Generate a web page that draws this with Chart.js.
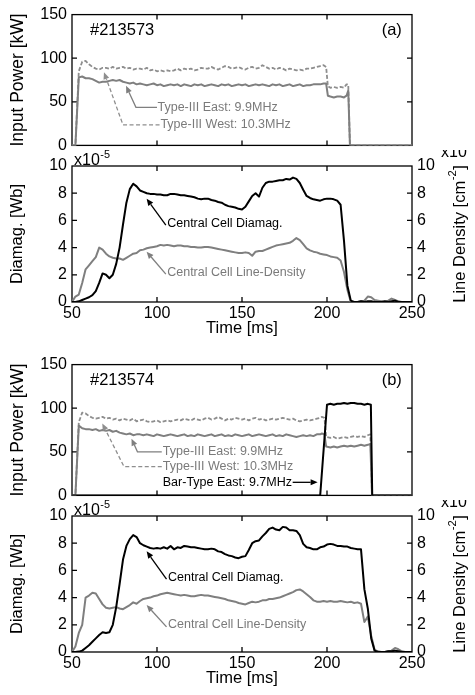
<!DOCTYPE html>
<html>
<head>
<meta charset="utf-8">
<script src="https://cdn.jsdelivr.net/npm/chart.js@4.4.1/dist/chart.umd.min.js"></script>
<style>
  html, body { margin: 0; padding: 0; background: #fff; }
  #wrap { position: relative; width: 475px; height: 695px; overflow: hidden; }
  #wrap canvas { position: absolute; left: 0; }
</style>
</head>
<body>
<div id="wrap">
  <canvas id="powA" width="475" height="160" style="top:0px"></canvas>
  <canvas id="magA" width="475" height="195" style="top:150px"></canvas>
  <canvas id="powB" width="475" height="160" style="top:350px"></canvas>
  <canvas id="magB" width="475" height="195" style="top:500px"></canvas>
</div>
<script>
// ---- data ----
// time grid for diamagnetism / line density [ms]
var tGrid = [
  50, 52, 54, 56, 58, 60, 62, 64, 66, 68,
  70, 72, 74, 76, 78, 80, 82, 84, 86, 88,
  90, 92, 94, 96, 98, 100, 102, 104, 106, 108,
  110, 112, 114, 116, 118, 120, 122, 124, 126, 128,
  130, 132, 134, 136, 138, 140, 142, 144, 146, 148,
  150, 152, 154, 156, 158, 160, 162, 164, 166, 168,
  170, 172, 174, 176, 178, 180, 182, 184, 186, 188,
  190, 192, 194, 196, 198, 200, 202, 204, 206, 208,
  210, 212, 214, 216, 218, 220, 222, 224, 226, 228,
  230, 232, 234, 236, 238, 240, 242, 244, 246, 248,
  250];

// (a) #213573
var tPowA = [
  50, 52, 54, 56, 58, 60, 62, 64, 66, 68,
  70, 72, 74, 76, 78, 80, 82, 84, 86, 88,
  90, 92, 94, 96, 98, 100, 102, 104, 106, 108,
  110, 112, 114, 116, 118, 120, 122, 124, 126, 128,
  130, 132, 134, 136, 138, 140, 142, 144, 146, 148,
  150, 152, 154, 156, 158, 160, 162, 164, 166, 168,
  170, 172, 174, 176, 178, 180, 182, 184, 186, 188,
  190, 192, 194, 196, 198, 199.5, 200.5, 202, 204, 206,
  208, 210, 211.5, 212.5, 213.5, 250];
var eastA = [
  0, 0, 78, 79, 77, 77, 76, 74, 72, 73,
  73, 74, 75, 74, 75, 73, 72, 71, 72, 70,
  71, 70, 69, 70, 71, 69, 70, 68, 69, 70,
  69, 70, 68, 70, 69, 68, 70, 69, 70, 68,
  69, 70, 69, 68, 70, 69, 70, 68, 69, 70,
  69, 70, 68, 69, 70, 69, 70, 69, 68, 70,
  69, 70, 68, 69, 70, 68, 69, 70, 68, 69,
  69, 70, 70, 70, 71, 71, 57, 56, 55, 56,
  56, 55, 57, 63, 0, 0];
var westA = [
  0, 0, 85, 96, 97, 93, 90, 88, 87, 89,
  89, 88, 90, 88, 89, 90, 88, 89, 87, 88,
  88, 87, 89, 86, 87, 85, 86, 85, 86, 85,
  86, 88, 86, 88, 87, 88, 86, 87, 89, 88,
  88, 90, 88, 87, 89, 91, 90, 88, 89, 90,
  88, 87, 89, 90, 88, 89, 92, 90, 88, 89,
  87, 89, 88, 86, 88, 87, 86, 87, 86, 88,
  88, 89, 90, 91, 92, 90, 68, 66, 67, 66,
  67, 66, 70, 70, 0, 0];
var diaA = [
  0, 0, 0.05, 0.15, 0.25, 0.35, 0.5, 0.8, 1.4, 2.1,
  2.0, 1.75, 2.0, 2.8, 4.0, 5.7, 7.3, 8.3, 8.7, 8.5,
  8.2, 8.1, 8.0, 7.95, 7.95, 7.9, 7.9, 7.85, 7.85, 7.95,
  7.95, 7.9, 7.85, 7.85, 7.8, 7.75, 7.7, 7.6, 7.55, 7.6,
  7.6, 7.5, 7.45, 7.35, 7.3, 7.15, 7.05, 7.0, 6.95, 6.85,
  6.8, 7.0, 7.4, 7.8, 8.0, 7.75, 8.4, 8.75, 8.85, 8.85,
  8.9, 8.95, 8.95, 9.05, 9.0, 9.15, 9.05, 8.75, 8.25, 7.8,
  7.65, 7.55, 7.5, 7.45, 7.55, 7.6, 7.6, 7.55, 7.45, 7.15,
  4.5, 1.2, 0.1, 0, 0, 0.05, 0, 0.05, 0.05, 0,
  0, 0, 0.05, 0, 0.05, 0.1, 0, 0, 0, 0,
  0];
var densA = [
  0, 0.4, 0.55, 1.4, 2.4, 2.7, 3.0, 3.3, 4.0, 3.85,
  3.55, 3.35, 3.25, 3.2, 3.2, 3.1, 3.25, 3.4, 3.55, 3.6,
  3.8, 3.85, 3.95, 4.0, 4.05, 4.1, 4.2, 4.15, 4.2, 4.15,
  4.1, 4.15, 4.15, 4.1, 4.1, 4.05, 4.05, 4.0, 4.0, 4.05,
  4.05, 4.0, 3.95, 3.9, 3.85, 3.8, 3.75, 3.7, 3.65, 3.6,
  3.6, 3.65, 3.6, 3.4, 3.7, 3.75, 3.75, 3.85, 3.95, 4.05,
  4.15, 4.2, 4.25, 4.3, 4.35, 4.5, 4.7, 4.55, 4.25, 3.95,
  3.8, 3.7, 3.65, 3.55, 3.5, 3.45, 3.35, 3.3, 3.25, 3.05,
  2.2, 0.9, 0, 0, 0, 0.05, 0.1, 0.4, 0.35, 0.15,
  0.1, 0.05, 0, 0.1, 0.25, 0.15, 0.05, 0, 0, 0,
  0];

// (b) #213574
var tPowB = [
  50, 52, 54, 56, 58, 60, 62, 64, 66, 68,
  70, 72, 74, 76, 78, 80, 82, 84, 86, 88,
  90, 92, 94, 96, 98, 100, 102, 104, 106, 108,
  110, 112, 114, 116, 118, 120, 122, 124, 126, 128,
  130, 132, 134, 136, 138, 140, 142, 144, 146, 148,
  150, 152, 154, 156, 158, 160, 162, 164, 166, 168,
  170, 172, 174, 176, 178, 180, 182, 184, 186, 188,
  190, 192, 194, 196, 197, 198.5, 199.5, 202, 204, 206,
  208, 210, 212, 214, 216, 218, 220, 222, 224, 225.5,
  226.5, 250];
var eastB = [
  0, 0, 80, 77, 76, 76, 75, 76, 74, 75,
  74, 75, 73, 74, 72, 71, 70, 71, 69, 70,
  70, 69, 70, 69, 68, 70, 69, 68, 69, 70,
  69, 68, 69, 70, 68, 69, 68, 70, 69, 68,
  69, 70, 68, 69, 70, 68, 69, 68, 70, 69,
  68, 69, 70, 68, 69, 70, 69, 68, 69, 70,
  68, 69, 68, 70, 69, 68, 67, 68, 69, 68,
  69, 68, 70, 70, 71, 70, 56, 55, 56, 55,
  56, 57, 56, 57, 56, 57, 58, 57, 58, 59,
  0, 0];
var westB = [
  0, 0, 84, 95, 94, 91, 89, 88, 89, 90,
  88, 89, 87, 88, 86, 88, 87, 86, 88, 85,
  86, 87, 85, 84, 85, 86, 84, 85, 86, 85,
  86, 87, 86, 88, 87, 86, 88, 87, 86, 88,
  89, 87, 88, 90, 88, 86, 88, 87, 89, 88,
  87, 88, 86, 88, 89, 87, 88, 86, 87, 88,
  87, 88, 89, 88, 87, 88, 86, 85, 86, 87,
  86, 87, 88, 89, 90, 89, 67, 66, 67, 65,
  66, 67, 66, 67, 68, 67, 68, 67, 69, 70,
  0, 0];
var tBar = [50, 196, 200, 202, 204, 206, 208, 210, 212, 214,
  216, 218, 220, 222, 224, 225.8, 226.6, 250];
var barB = [0, 0, 104, 105, 104, 105, 105, 106, 105, 106,
  106, 105, 105, 104, 105, 104, 0, 0];
var diaB = [
  0, 0, 0.03, 0.1, 0.3, 0.5, 0.75, 1.0, 1.25, 1.45,
  1.4, 1.45, 2.0, 3.3, 5.0, 6.8, 7.8, 8.3, 8.6, 8.45,
  8.0, 7.85, 7.75, 7.65, 7.6, 7.65, 7.6, 7.7, 7.6, 7.8,
  7.55, 7.7, 7.65, 7.8, 7.75, 7.7, 7.7, 7.65, 7.6, 7.55,
  7.55, 7.6, 7.55, 7.4, 7.35, 7.2, 7.1, 7.05, 6.95, 6.9,
  7.0, 7.05, 7.5, 8.0, 8.15, 8.2, 8.5, 8.75, 9.05, 9.15,
  9.0, 8.95, 9.2, 9.15, 8.95, 8.95, 8.9, 8.6, 7.95, 7.7,
  7.65, 7.55, 7.55, 7.7, 7.75, 7.9, 7.95, 7.9, 7.8, 7.8,
  7.75, 7.75, 7.65, 7.6, 7.55, 7.55, 4.6, 3.2, 1.0, 0.1,
  0, 0, 0, 0.05, 0.05, 0.1, 0.05, 0, 0, 0,
  0];
var densB = [
  0, 0.4, 1.4, 2.0, 4.0, 4.15, 4.35, 4.3, 3.9, 3.5,
  3.25, 3.2, 3.25, 3.3, 3.2, 3.15, 3.3, 3.45, 3.65, 3.55,
  3.75, 3.9, 3.95, 4.0, 4.1, 4.15, 4.25, 4.3, 4.35, 4.3,
  4.25, 4.2, 4.15, 4.2, 4.15, 4.1, 4.1, 4.15, 4.2, 4.15,
  4.15, 4.1, 4.05, 4.0, 3.95, 3.9, 3.8, 3.75, 3.7, 3.6,
  3.55, 3.5, 3.6, 3.7, 3.65, 3.7, 3.8, 3.8, 3.9, 3.9,
  3.95, 4.0, 4.1, 4.2, 4.3, 4.4, 4.55, 4.6, 4.45, 4.25,
  4.05, 3.8, 3.7, 3.7, 3.75, 3.7, 3.75, 3.7, 3.7, 3.75,
  3.7, 3.65, 3.7, 3.6, 3.65, 3.55, 2.2, 2.6, 1.2, 0.15,
  0.05, 0, 0, 0.05, 0.1, 0.3, 0.2, 0.05, 0, 0,
  0];

// axis ranges / ticks
var timeRange = [50, 250], timeStep = 50;
var powRange = [0, 150], powStep = 50;
var magRange = [0, 10], magStep = 2;

// ---- drawing ----
var FONT = '"Liberation Sans", Arial, Helvetica, sans-serif';
Chart.defaults.font.family = FONT;
Chart.defaults.color = '#000';

var GRAY = '#7f7f7f', GRAY2 = '#8e8e8e', TXTGRAY = '#7a7a7a';

function pts(ts, vs) {
  return ts.map(function (t, i) { return { x: t, y: vs[i] }; });
}

// annotations (in data units of x / left y)
var notesFor = {
  powA: {
    texts: [
      { s: '#213573', t: 60.6, v: 132, size: 16.5, color: '#000', align: 'left' },
      { s: '(a)', t: 244, v: 132, size: 16.5, color: '#000', align: 'right' },
      { s: 'Type-III East: 9.9MHz', t: 100.3, v: 43.7, size: 12.5, color: TXTGRAY, align: 'left' },
      { s: 'Type-III West: 10.3MHz', t: 102, v: 23.5, size: 12.5, color: TXTGRAY, align: 'left' }
    ],
    arrows: [
      { path: [[100, 43.7], [87.6, 43.7], [81.8, 68.3]], color: GRAY },
      { path: [[101.5, 23.5], [80, 23.5], [68.8, 84]], color: GRAY2, dash: [4, 2.5] }
    ]
  },
  powB: {
    texts: [
      { s: '#213574', t: 60.6, v: 132, size: 16.5, color: '#000', align: 'left' },
      { s: '(b)', t: 244, v: 132, size: 16.5, color: '#000', align: 'right' },
      { s: 'Type-III East: 9.9MHz', t: 103.4, v: 50, size: 12.5, color: TXTGRAY, align: 'left' },
      { s: 'Type-III West: 10.3MHz', t: 103.4, v: 33, size: 12.5, color: TXTGRAY, align: 'left' },
      { s: 'Bar-Type East: 9.7MHz', t: 103.4, v: 15, size: 12.5, color: '#000', align: 'left' }
    ],
    arrows: [
      { path: [[102.8, 50], [88.5, 50], [85, 65]], color: GRAY },
      { path: [[102.8, 33], [80.6, 33], [67.8, 82.5]], color: GRAY2, dash: [4, 2.5] },
      { path: [[179.8, 15], [194.5, 15]], color: '#000' }
    ]
  },
  magA: {
    texts: [
      { s: 'Central Cell Diamag.', t: 106, v: 5.8, size: 12.5, color: '#000', align: 'left' },
      { s: 'Central Cell Line-Density', t: 106, v: 2.2, size: 12.5, color: TXTGRAY, align: 'left' }
    ],
    arrows: [
      { path: [[105.2, 5.65], [93.9, 7.6]], color: '#000' },
      { path: [[105.2, 2.05], [93.9, 3.7]], color: GRAY }
    ],
    mag: true
  },
  magB: {
    texts: [
      { s: 'Central Cell Diamag.', t: 106.5, v: 5.5, size: 12.5, color: '#000', align: 'left' },
      { s: 'Central Cell Line-Density', t: 106.5, v: 2.0, size: 12.5, color: TXTGRAY, align: 'left' }
    ],
    arrows: [
      { path: [[105.6, 5.35], [93.9, 7.4]], color: '#000' },
      { path: [[105.6, 1.85], [93.9, 3.45]], color: GRAY }
    ],
    mag: true
  }
};

function supText(ctx, x, y, base, exp, size) {
  ctx.font = size + 'px ' + FONT;
  ctx.fillText(base, x, y);
  var w = ctx.measureText(base).width;
  ctx.font = (size * 0.68) + 'px ' + FONT;
  ctx.fillText(exp, x + w + 0.5, y - size * 0.42);
}

function drawArrow(ctx, p, color, dash) {
  ctx.save();
  ctx.strokeStyle = color; ctx.fillStyle = color; ctx.lineWidth = 1.3;
  var n = p.length;
  var x1 = p[n - 2][0], y1 = p[n - 2][1], x2 = p[n - 1][0], y2 = p[n - 1][1];
  var a = Math.atan2(y2 - y1, x2 - x1), L = 7, W = 3;
  var bx = x2 - L * Math.cos(a), by = y2 - L * Math.sin(a);
  ctx.setLineDash(dash || []);
  ctx.beginPath();
  ctx.moveTo(p[0][0], p[0][1]);
  for (var i = 1; i < n - 1; i++) ctx.lineTo(p[i][0], p[i][1]);
  ctx.lineTo(bx, by);
  ctx.stroke();
  ctx.setLineDash([]);
  ctx.beginPath();
  ctx.moveTo(x2, y2);
  ctx.lineTo(bx + W * Math.sin(a), by - W * Math.cos(a));
  ctx.lineTo(bx - W * Math.sin(a), by + W * Math.cos(a));
  ctx.closePath();
  ctx.fill();
  ctx.restore();
}

// box frame with inward tick marks
var frameTicks = {
  id: 'frameTicks',
  beforeDatasetsDraw: function (chart) {
    var ctx = chart.ctx, a = chart.chartArea, sc = chart.scales, len = 5;
    ctx.save();
    ctx.strokeStyle = '#000';
    ctx.lineWidth = 1.3;
    ctx.strokeRect(a.left, a.top, a.right - a.left, a.bottom - a.top);
    ctx.beginPath();
    sc.x.ticks.forEach(function (tk) {
      var px = sc.x.getPixelForValue(tk.value);
      if (px <= a.left + 1 || px >= a.right - 1) return;
      ctx.moveTo(px, a.bottom); ctx.lineTo(px, a.bottom - len);
      ctx.moveTo(px, a.top); ctx.lineTo(px, a.top + len);
    });
    var yl = sc.y, yr = sc.y2 || sc.y;
    yl.ticks.forEach(function (tk) {
      var py = yl.getPixelForValue(tk.value);
      if (py <= a.top + 1 || py >= a.bottom - 1) return;
      ctx.moveTo(a.left, py); ctx.lineTo(a.left + len, py);
    });
    yr.ticks.forEach(function (tk) {
      var py = yr.getPixelForValue(tk.value);
      if (py <= a.top + 1 || py >= a.bottom - 1) return;
      ctx.moveTo(a.right, py); ctx.lineTo(a.right - len, py);
    });
    ctx.stroke();
    ctx.restore();
  }
};

// labels, arrows, exponents, right-hand title
var notes = {
  id: 'notes',
  afterDraw: function (chart) {
    var n = notesFor[chart.canvas.id];
    if (!n) return;
    var ctx = chart.ctx, a = chart.chartArea, xs = chart.scales.x, ys = chart.scales.y;
    ctx.save();
    n.arrows.forEach(function (ar) {
      var p = ar.path.map(function (q) { return [xs.getPixelForValue(q[0]), ys.getPixelForValue(q[1])]; });
      drawArrow(ctx, p, ar.color, ar.dash);
    });
    ctx.textBaseline = 'middle';
    n.texts.forEach(function (tx) {
      ctx.font = tx.size + 'px ' + FONT;
      ctx.fillStyle = tx.color;
      ctx.textAlign = tx.align;
      ctx.fillText(tx.s, xs.getPixelForValue(tx.t), ys.getPixelForValue(tx.v));
    });
    if (n.mag) {
      ctx.fillStyle = '#000';
      ctx.textAlign = 'left';
      ctx.textBaseline = 'alphabetic';
      supText(ctx, a.left + 2, a.top - 1, 'x10', '-5', 16);
      supText(ctx, a.right + 29, a.top - 9, 'x10', '13', 16);
      // right axis title, reading bottom to top
      var size = 16.5, es = size * 0.68;
      var p1 = 'Line Density [cm', p2 = '-2', p3 = ']';
      ctx.font = size + 'px ' + FONT;
      var w1 = ctx.measureText(p1).width, w3 = ctx.measureText(p3).width;
      ctx.font = es + 'px ' + FONT;
      var w2 = ctx.measureText(p2).width;
      var tot = w1 + w2 + w3 + 1;
      ctx.translate(a.right + 48, (a.top + a.bottom) / 2);
      ctx.rotate(-Math.PI / 2);
      ctx.textBaseline = 'middle';
      var x0 = -tot / 2;
      ctx.font = size + 'px ' + FONT;
      ctx.fillText(p1, x0, 0);
      ctx.font = es + 'px ' + FONT;
      ctx.fillText(p2, x0 + w1 + 0.5, -size * 0.42);
      ctx.font = size + 'px ' + FONT;
      ctx.fillText(p3, x0 + w1 + w2 + 1, 0);
    }
    ctx.restore();
  }
};

function timeAxis(showLabels) {
  return {
    type: 'linear', min: timeRange[0], max: timeRange[1],
    grid: { display: false, drawTicks: false }, border: { display: false },
    ticks: { display: showLabels, stepSize: timeStep, autoSkip: false, maxRotation: 0,
             font: { size: 16 }, color: '#000', padding: 2 },
    title: { display: showLabels, text: 'Time [ms]', color: '#000',
             font: { size: 16.5 }, padding: { top: 0, bottom: 7 } },
    afterFit: function (s) { s.height = showLabels ? 43 : 13; }
  };
}

function powerChart(id, tP, east, west, extra) {
  var sets = [];
  if (extra) {
    sets.push({ data: pts(extra.t, extra.v), borderColor: '#000', borderWidth: 2 });
  }
  sets.push({ data: pts(tP, east), borderColor: GRAY, borderWidth: 2 });
  sets.push({ data: pts(tP, west), borderColor: GRAY2, borderWidth: 1.8, borderDash: [4, 2] });
  return new Chart(document.getElementById(id), {
    type: 'line',
    data: { datasets: sets },
    options: {
      responsive: false, animation: false, events: [],
      layout: { padding: { top: 13, right: 63, left: 0, bottom: 0 } },
      elements: { point: { radius: 0 }, line: { tension: 0, borderJoinStyle: 'round', fill: false } },
      plugins: { legend: { display: false }, tooltip: { enabled: false } },
      scales: {
        x: timeAxis(false),
        y: {
          position: 'left', min: powRange[0], max: powRange[1],
          grid: { display: false, drawTicks: false }, border: { display: false },
          ticks: { stepSize: powStep, font: { size: 16 }, color: '#000', padding: 5 },
          title: { display: true, text: 'Input Power [kW]', color: '#000',
                   font: { size: 17.5 }, padding: { top: 7.5, bottom: 0 } },
          afterFit: function (s) { s.width = 72; }
        }
      }
    },
    plugins: [frameTicks, notes]
  });
}

function magChart(id, dia, dens) {
  return new Chart(document.getElementById(id), {
    type: 'line',
    data: {
      datasets: [
        { data: pts(tGrid, dia), borderColor: '#000', borderWidth: 2, yAxisID: 'y' },
        { data: pts(tGrid, dens), borderColor: GRAY, borderWidth: 2, yAxisID: 'y2' }
      ]
    },
    options: {
      responsive: false, animation: false, events: [],
      layout: { padding: { top: 16, right: 0, left: 0, bottom: 0 } },
      elements: { point: { radius: 0 }, line: { tension: 0, borderJoinStyle: 'round', fill: false } },
      plugins: { legend: { display: false }, tooltip: { enabled: false } },
      scales: {
        x: timeAxis(true),
        y: {
          position: 'left', min: magRange[0], max: magRange[1],
          grid: { display: false, drawTicks: false }, border: { display: false },
          ticks: { stepSize: magStep, font: { size: 16 }, color: '#000', padding: 5 },
          title: { display: true, text: 'Diamag. [Wb]', color: '#000',
                   font: { size: 16.5 }, padding: { top: 8, bottom: 0 } },
          afterFit: function (s) { s.width = 72; }
        },
        y2: {
          position: 'right', min: magRange[0], max: magRange[1],
          grid: { display: false, drawTicks: false }, border: { display: false },
          ticks: { stepSize: magStep, font: { size: 16 }, color: '#000', padding: 5 },
          afterFit: function (s) { s.width = 63; }
        }
      }
    },
    plugins: [frameTicks, notes]
  });
}

powerChart('powA', tPowA, eastA, westA, null);
magChart('magA', diaA, densA);
powerChart('powB', tPowB, eastB, westB, { t: tBar, v: barB });
magChart('magB', diaB, densB);
</script>
</body>
</html>
